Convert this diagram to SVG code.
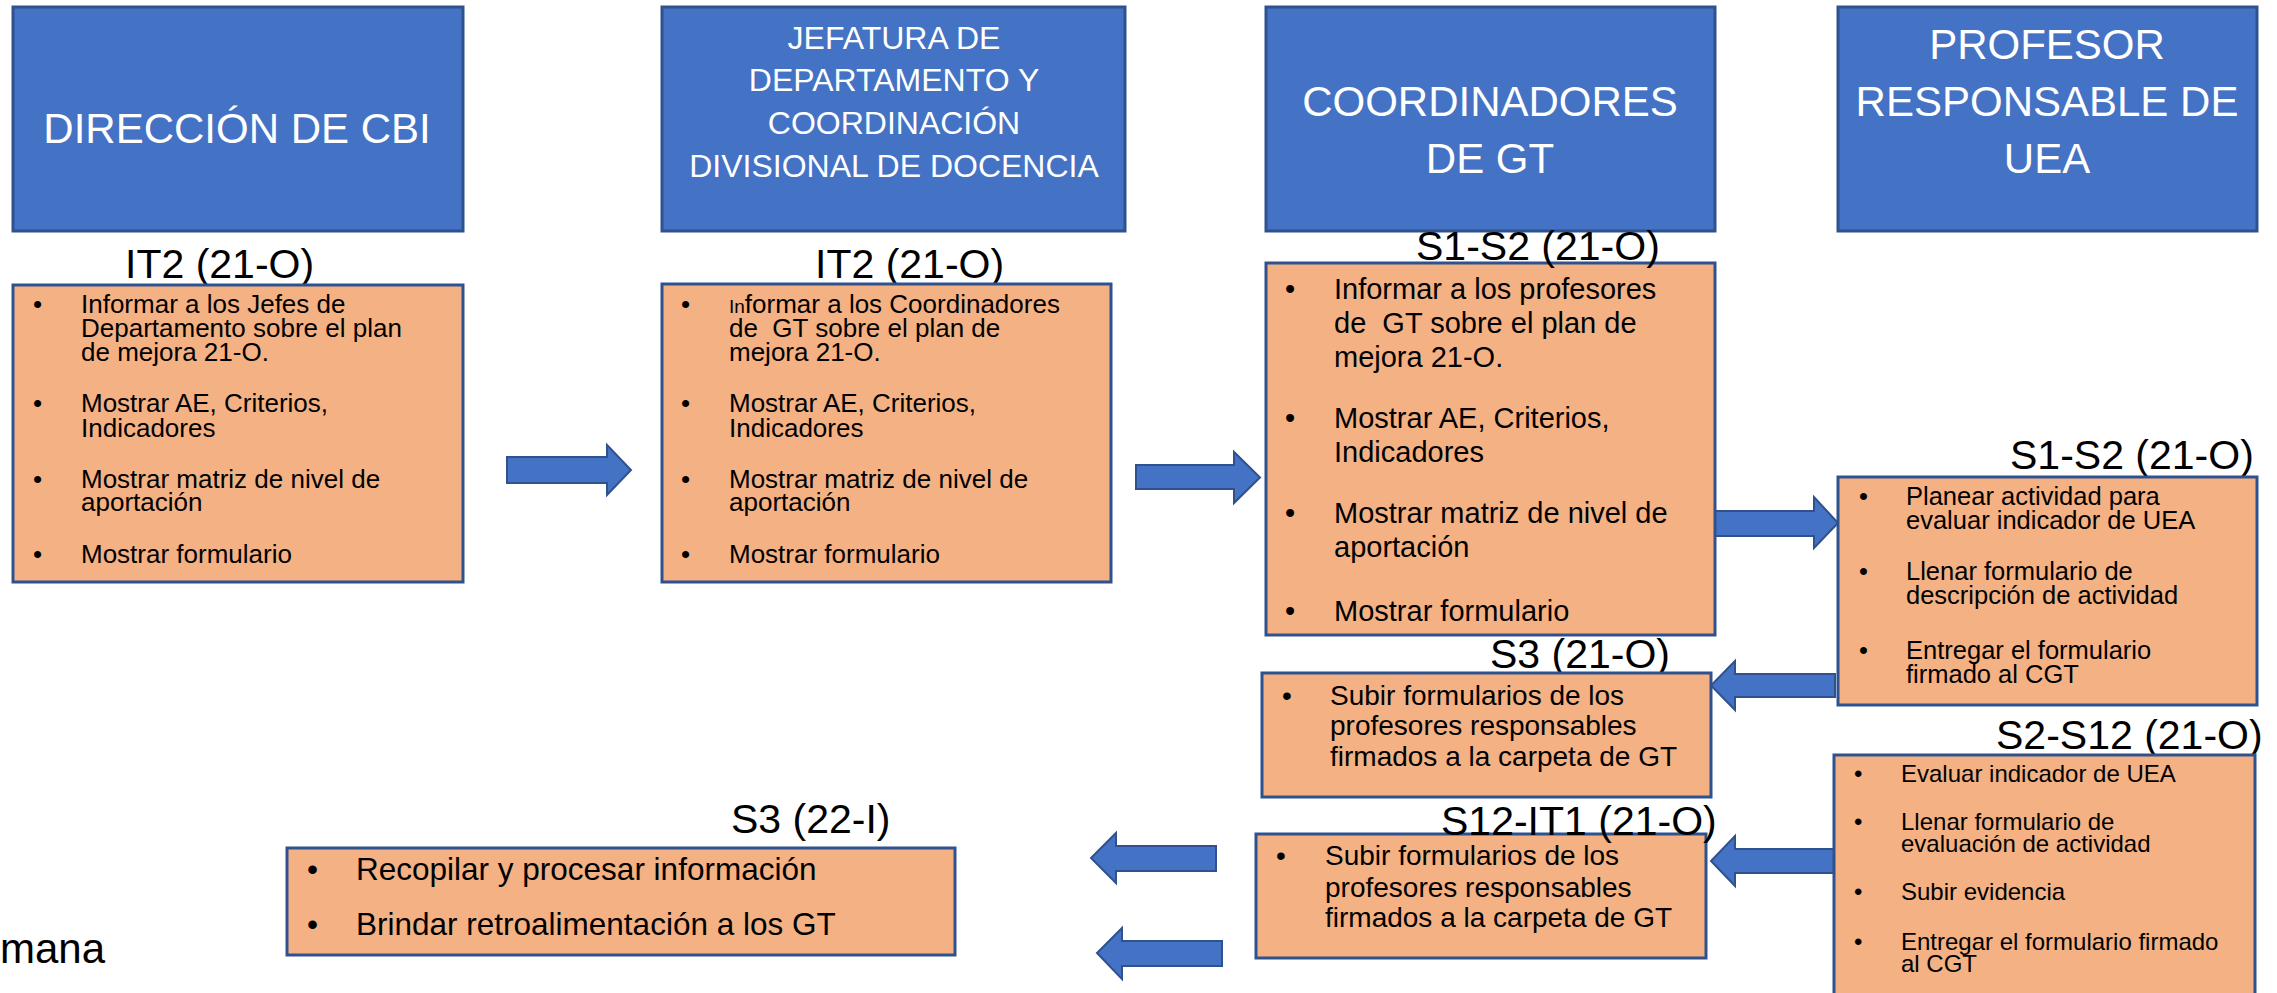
<svg xmlns="http://www.w3.org/2000/svg" width="2277" height="993" viewBox="0 0 2277 993">
<style>
.hdr{fill:#4472C4;stroke:#2F528F;stroke-width:3}
.box{fill:#F4B183;stroke:#2F528F;stroke-width:3}
.arr{fill:#4472C4;stroke:#2F528F;stroke-width:2}
text{font-family:"Liberation Sans",Arial,sans-serif;fill:#000}
.ht{fill:#fff;text-anchor:middle}
.h1{font-size:42px}
.h2{font-size:32px}
.lbl{font-size:41px}
.b1{font-size:26px}
.b3{font-size:29px}
.b4{font-size:25.5px}
.b5{font-size:28px}
.b6{font-size:24px}
.b8{font-size:31.5px}
</style>
<rect width="2277" height="993" fill="#fff"/>

<g id="header-direccion">
<rect class="hdr" x="13" y="7" width="450" height="224"/>
<text class="ht h1" x="237" y="143">DIRECCIÓN DE CBI</text>
</g>
<g id="header-jefatura">
<rect class="hdr" x="662" y="7" width="463" height="224"/>
<text class="ht h2" x="894" y="49">JEFATURA DE</text>
<text class="ht h2" x="894" y="91">DEPARTAMENTO Y</text>
<text class="ht h2" x="894" y="134">COORDINACIÓN</text>
<text class="ht h2" x="894" y="177">DIVISIONAL DE DOCENCIA</text>
</g>
<g id="header-coordinadores">
<rect class="hdr" x="1266" y="7" width="449" height="224"/>
<text class="ht h1" x="1490" y="116">COORDINADORES</text>
<text class="ht h1" x="1490" y="173">DE GT</text>
</g>
<g id="header-profesor">
<rect class="hdr" x="1838" y="7" width="419" height="224"/>
<text class="ht h1" x="2047" y="59">PROFESOR</text>
<text class="ht h1" x="2047" y="116">RESPONSABLE DE</text>
<text class="ht h1" x="2047" y="173">UEA</text>
</g>

<g id="connectors">
<polygon class="arr" points="507,457 607,457 607,445 631,470 607,495 607,483 507,483"/>
<polygon class="arr" points="1136,465 1234,465 1234,452 1260,477.5 1234,503 1234,489 1136,489"/>
<polygon class="arr" points="1715,511 1814,511 1814,497 1838,523 1814,548 1814,536 1715,536"/>
<polygon class="arr" points="1835,674 1735,674 1735,661 1711,685.5 1735,710 1735,697 1835,697"/>
<polygon class="arr" points="1835,849 1735,849 1735,836 1711,861 1735,886 1735,873 1835,873"/>
<polygon class="arr" points="1216,846 1116,846 1116,833 1091,858 1116,883 1116,871 1216,871"/>
<polygon class="arr" points="1222,941 1122,941 1122,928 1097,953 1122,979 1122,966 1222,966"/>
</g>

<g id="box-direccion">
<text class="lbl" x="125" y="278">IT2 (21-O)</text>
<rect class="box" x="13" y="285" width="450" height="297"/>
<g class="b1">
<text x="33" y="313">•</text>
<text x="81" y="313">Informar a los Jefes de</text>
<text x="81" y="337">Departamento sobre el plan</text>
<text x="81" y="361">de mejora 21-O.</text>
<text x="33" y="412">•</text>
<text x="81" y="412">Mostrar AE, Criterios,</text>
<text x="81" y="437">Indicadores</text>
<text x="33" y="488">•</text>
<text x="81" y="488">Mostrar matriz de nivel de</text>
<text x="81" y="511">aportación</text>
<text x="33" y="563">•</text>
<text x="81" y="563">Mostrar formulario</text>
</g>
</g>

<g id="box-jefatura">
<text class="lbl" x="815" y="278">IT2 (21-O)</text>
<rect class="box" x="662" y="284" width="449" height="298"/>
<g class="b1">
<text x="681" y="313">•</text>
<text x="729" y="313"><tspan font-size="19">In</tspan>formar a los Coordinadores</text>
<text x="729" y="337" xml:space="preserve">de  GT sobre el plan de</text>
<text x="729" y="361">mejora 21-O.</text>
<text x="681" y="412">•</text>
<text x="729" y="412">Mostrar AE, Criterios,</text>
<text x="729" y="437">Indicadores</text>
<text x="681" y="488">•</text>
<text x="729" y="488">Mostrar matriz de nivel de</text>
<text x="729" y="511">aportación</text>
<text x="681" y="563">•</text>
<text x="729" y="563">Mostrar formulario</text>
</g>
</g>

<g id="box-coordinadores">
<rect class="box" x="1266" y="263" width="449" height="372"/>
<text class="lbl" x="1416" y="260">S1-S2 (21-O)</text>
<g class="b3">
<text x="1285" y="299">•</text>
<text x="1334" y="299">Informar a los profesores</text>
<text x="1334" y="333" xml:space="preserve">de  GT sobre el plan de</text>
<text x="1334" y="367">mejora 21-O.</text>
<text x="1285" y="428">•</text>
<text x="1334" y="428">Mostrar AE, Criterios,</text>
<text x="1334" y="462">Indicadores</text>
<text x="1285" y="523">•</text>
<text x="1334" y="523">Mostrar matriz de nivel de</text>
<text x="1334" y="557">aportación</text>
<text x="1285" y="621">•</text>
<text x="1334" y="621">Mostrar formulario</text>
</g>
</g>

<g id="box-profesor-planear">
<text class="lbl" x="2010" y="469">S1-S2 (21-O)</text>
<rect class="box" x="1838" y="477" width="419" height="228"/>
<g class="b4">
<text x="1859" y="505">•</text>
<text x="1906" y="505">Planear actividad para</text>
<text x="1906" y="529">evaluar indicador de UEA</text>
<text x="1859" y="580">•</text>
<text x="1906" y="580">Llenar formulario de</text>
<text x="1906" y="604">descripción de actividad</text>
<text x="1859" y="659">•</text>
<text x="1906" y="659">Entregar el formulario</text>
<text x="1906" y="683">firmado al CGT</text>
</g>
</g>

<g id="box-coordinadores-s3">
<text class="lbl" x="1490" y="668">S3 (21-O)</text>
<rect class="box" x="1262" y="673" width="449" height="124"/>
<g class="b5">
<text x="1282" y="705">•</text>
<text x="1330" y="705">Subir formularios de los</text>
<text x="1330" y="735">profesores responsables</text>
<text x="1330" y="766">firmados a la carpeta de GT</text>
</g>
</g>

<g id="box-profesor-evaluar">
<text class="lbl" x="1996" y="749">S2-S12 (21-O)</text>
<rect class="box" x="1834" y="755" width="421" height="260"/>
<g class="b6">
<text x="1854" y="782">•</text>
<text x="1901" y="782">Evaluar indicador de UEA</text>
<text x="1854" y="830">•</text>
<text x="1901" y="830">Llenar formulario de</text>
<text x="1901" y="852">evaluación de actividad</text>
<text x="1854" y="900">•</text>
<text x="1901" y="900">Subir evidencia</text>
<text x="1854" y="950">•</text>
<text x="1901" y="950">Entregar el formulario firmado</text>
<text x="1901" y="972">al CGT</text>
</g>
</g>

<g id="box-coordinadores-s12">
<rect class="box" x="1256" y="834" width="450" height="124"/>
<text class="lbl" x="1441" y="835">S12-IT1 (21-O)</text>
<g class="b5">
<text x="1276" y="865">•</text>
<text x="1325" y="865">Subir formularios de los</text>
<text x="1325" y="897">profesores responsables</text>
<text x="1325" y="927">firmados a la carpeta de GT</text>
</g>
</g>

<g id="box-direccion-s3">
<text class="lbl" x="731" y="833">S3 (22-I)</text>
<rect class="box" x="287" y="848" width="668" height="107"/>
<g class="b8">
<text x="307" y="880">•</text>
<text x="356" y="880">Recopilar y procesar información</text>
<text x="307" y="935">•</text>
<text x="356" y="935">Brindar retroalimentación a los GT</text>
</g>
</g>

<text x="0" y="963" font-size="42">mana</text>
</svg>
